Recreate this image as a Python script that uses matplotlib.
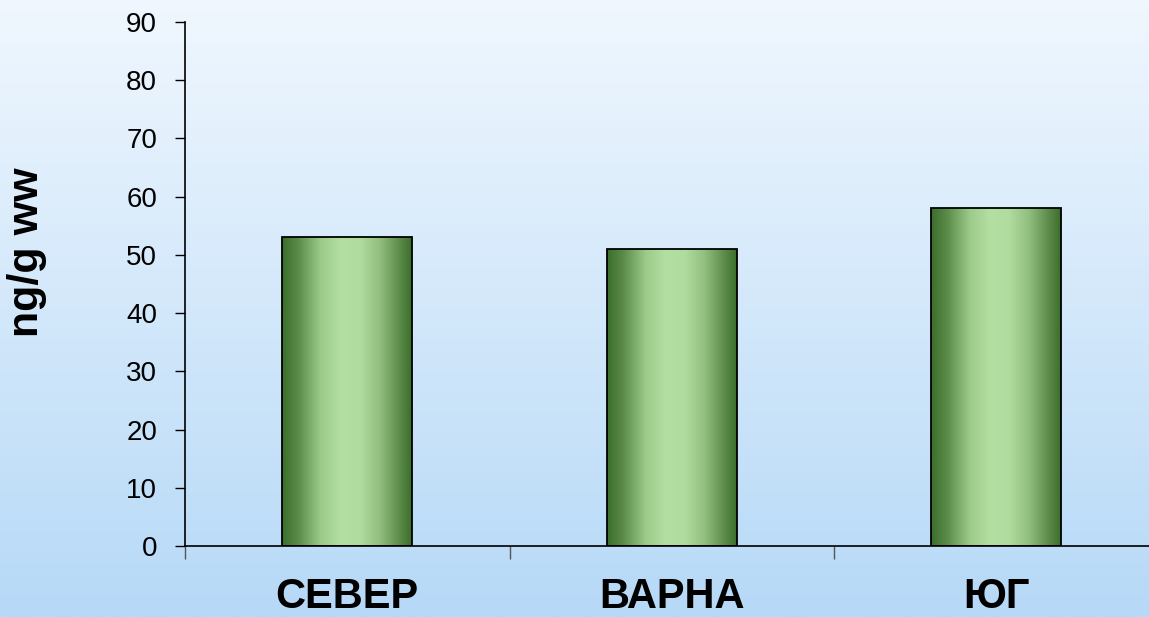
import numpy as np
import matplotlib.pyplot as plt
from matplotlib.colors import LinearSegmentedColormap

# Dados
regioes = ['СЕВЕР', 'ВАРНА', 'ЮГ']
valores = [53, 51, 58]
yticks = list(range(0, 91, 10))

plt.rcParams['font.family'] = ['Liberation Sans', 'DejaVu Sans']

fig = plt.figure(figsize=(11.49, 6.17), dpi=100)

# Fundo com degradê vertical
fundo = fig.add_axes([0, 0, 1, 1], zorder=-1)
cmap_fundo = LinearSegmentedColormap.from_list('fundo', ['#b6d9f7', '#f0f7fe'])
grad = np.linspace(0, 1, 256).reshape(-1, 1)
fundo.imshow(grad, aspect='auto', cmap=cmap_fundo, origin='lower', extent=[0, 1, 0, 1])
fundo.set_axis_off()

ax = fig.add_axes([185 / 1149, 71 / 617, 973.5 / 1149, 524 / 617])
ax.set_facecolor('none')

# Barras com degradê horizontal (efeito cilíndrico)
cmap_barra = LinearSegmentedColormap.from_list('barra', [
    (0.0, '#3b6e2c'), (0.12, '#5a8a48'), (0.3, '#9ccb8a'), (0.45, '#b3dfa2'),
    (0.6, '#b0dc9f'), (0.75, '#93c080'), (0.9, '#5e8d4c'), (1.0, '#3b6e2c')])
x = np.arange(len(regioes))
largura = 0.4
barras = ax.bar(x, valores, width=largura, facecolor='none', edgecolor='black', linewidth=1.3, zorder=3)
grad_h = np.linspace(0, 1, 256).reshape(1, -1)
for b in barras:
    x0, y0 = b.get_x(), b.get_y()
    im = ax.imshow(grad_h, aspect='auto', cmap=cmap_barra,
                   extent=[x0, x0 + b.get_width(), y0, y0 + b.get_height()], zorder=2)
    im.set_clip_path(b)

ax.set_xlim(-0.5, 2.5)
ax.set_ylim(0, 90)
ax.set_yticks(yticks)
ax.tick_params(axis='y', labelsize=20, length=7, width=1, pad=13)

ax.set_xticks(x)
ax.set_xticklabels(regioes, fontsize=30, fontweight='bold')
ax.set_xticks(np.arange(-0.5, 3, 1), minor=True)
ax.tick_params(axis='x', which='major', length=0, pad=22)
ax.tick_params(axis='x', which='minor', length=9, width=1, color='#555555')

for lado in ['top', 'right']:
    ax.spines[lado].set_visible(False)
for lado in ['left', 'bottom']:
    ax.spines[lado].set_linewidth(1.2)

fig.text(27 / 1149, 1 - 252 / 617, 'ng/g ww', rotation=90, ha='center', va='center',
         fontsize=31, fontweight='bold')

fig.savefig('out.png', dpi=100)
